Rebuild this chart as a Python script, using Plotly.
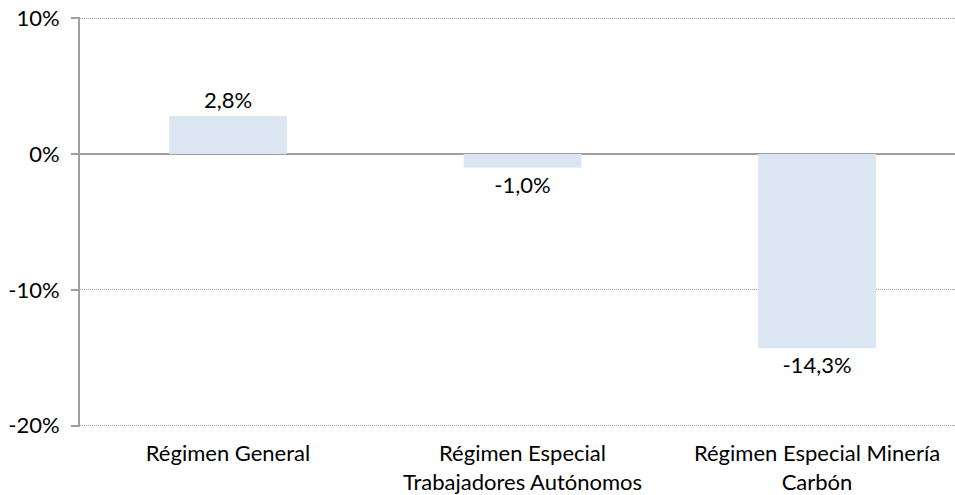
import plotly.graph_objects as go

categories = ["Régimen General", "Régimen Especial<br>Trabajadores Autónomos", "Régimen Especial Minería<br>Carbón"]
values = [2.8, -1.0, -14.3]
tick_vals = [10, 0, -10, -20]
tick_text = ["10%", "0%", "-10%", "-20%"]

FONT = "Lato, 'Open Sans', sans-serif"
FS = 22

fig = go.Figure(
    go.Bar(
        x=list(range(len(categories))),
        y=values,
        width=0.4,
        marker=dict(color="#DCE6F2", line=dict(width=0)),
        texttemplate="%{y:.1f}%",
        textposition="outside",
        textfont=dict(family=FONT, size=FS, color="#000000"),
        cliponaxis=False,
    )
)

fig.update_layout(
    width=955,
    height=495,
    margin=dict(l=80, r=0, t=17, b=68, autoexpand=False),
    paper_bgcolor="white",
    plot_bgcolor="white",
    separators=",.",
    showlegend=False,
    font=dict(family=FONT, size=FS, color="#000000"),
    xaxis=dict(
        range=[-0.5025, 2.4686],
        tickvals=list(range(len(categories))),
        ticktext=categories,
        showgrid=False,
        zeroline=False,
        showline=False,
        ticks="",
        ticklabelstandoff=11,
        automargin=False,
        tickfont=dict(family=FONT, size=FS, color="#000000"),
    ),
    yaxis=dict(
        range=[-20.1, 10.1],
        tickvals=tick_vals,
        ticktext=tick_text,
        showgrid=True,
        gridcolor="#9A9A9A",
        gridwidth=1,
        griddash="1px,1px",
        zeroline=True,
        zerolinecolor="#A0A0A0",
        zerolinewidth=2,
        showline=True,
        linecolor="#A0A0A0",
        linewidth=2,
        ticks="outside",
        ticklen=7,
        tickwidth=2,
        tickcolor="#A0A0A0",
        ticklabelstandoff=7,
        automargin=False,
        tickfont=dict(family=FONT, size=FS, color="#000000"),
    ),
)

fig.write_html(
    "out.html",
    config={"displayModeBar": False},
    post_script="document.body.style.margin='0';document.body.style.overflow='hidden';",
)
